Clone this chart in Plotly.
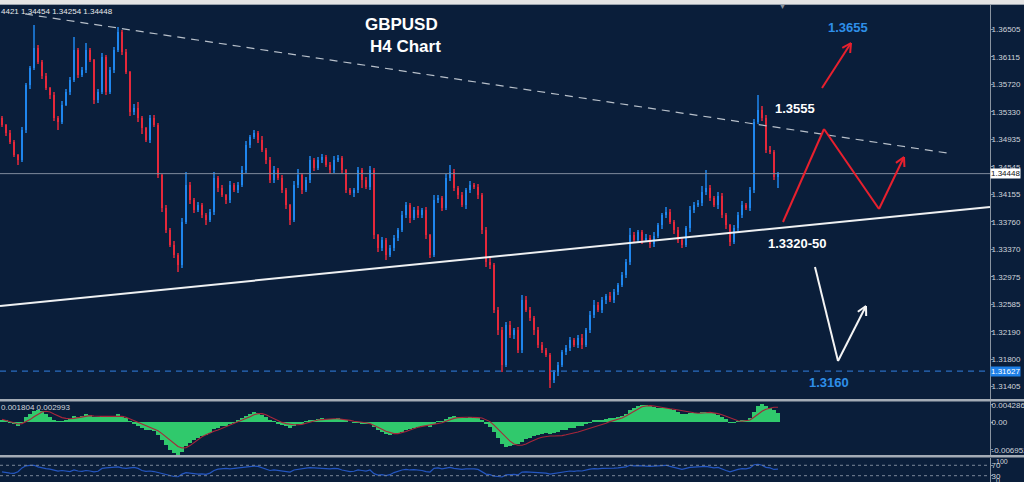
import math
import plotly.graph_objects as go

# ---------------- data ----------------
first_open = 1.3524
close = [
    1.3514, 1.3503, 1.3490, 1.3471, 1.3464, 1.3507, 1.3571, 1.3596, 1.3624, 1.3604,
    1.3584, 1.3567, 1.3557, 1.3524, 1.3519, 1.3543, 1.3561, 1.3579, 1.3621, 1.3586,
    1.3593, 1.3621, 1.3607, 1.3550, 1.3561, 1.3611, 1.3561, 1.3593, 1.3621, 1.3647,
    1.3619, 1.3590, 1.3533, 1.3539, 1.3524, 1.3510, 1.3493, 1.3524, 1.3514, 1.3443,
    1.3396, 1.3364, 1.3343, 1.3329, 1.3314, 1.3376, 1.3429, 1.3407, 1.3393, 1.3400,
    1.3386, 1.3379, 1.3390, 1.3439, 1.3424, 1.3414, 1.3407, 1.3429, 1.3421, 1.3429,
    1.3450, 1.3486, 1.3497, 1.3503, 1.3493, 1.3479, 1.3464, 1.3436, 1.3450, 1.3439,
    1.3421, 1.3400, 1.3379, 1.3429, 1.3443, 1.3421, 1.3436, 1.3464, 1.3453, 1.3464,
    1.3469, 1.3457, 1.3450, 1.3464, 1.3467, 1.3450, 1.3421, 1.3417, 1.3421, 1.3450,
    1.3436, 1.3426, 1.3450, 1.3357, 1.3339, 1.3350, 1.3329, 1.3339, 1.3353, 1.3364,
    1.3386, 1.3400, 1.3381, 1.3393, 1.3386, 1.3393, 1.3357, 1.3329, 1.3407, 1.3410,
    1.3396, 1.3439, 1.3447, 1.3424, 1.3414, 1.3400, 1.3421, 1.3429, 1.3426, 1.3414,
    1.3364, 1.3319, 1.3314, 1.3250, 1.3221, 1.3171, 1.3229, 1.3214, 1.3221, 1.3193,
    1.3264, 1.3250, 1.3239, 1.3221, 1.3200, 1.3193, 1.3186, 1.3150, 1.3161, 1.3171,
    1.3190, 1.3196, 1.3207, 1.3200, 1.3210, 1.3200, 1.3221, 1.3243, 1.3257, 1.3250,
    1.3264, 1.3270, 1.3264, 1.3276, 1.3286, 1.3300, 1.3319, 1.3357, 1.3350, 1.3361,
    1.3350, 1.3353, 1.3344, 1.3356, 1.3371, 1.3386, 1.3390, 1.3376, 1.3364, 1.3350,
    1.3343, 1.3367, 1.3393, 1.3400, 1.3403, 1.3419, 1.3424, 1.3410, 1.3400, 1.3413,
    1.3386, 1.3371, 1.3347, 1.3367, 1.3386, 1.3400, 1.3396, 1.3421, 1.3519, 1.3536,
    1.3524, 1.3479, 1.3476, 1.3440, 1.34448,
]
up_wick_pips = [
    3, 2, 4, 3, 2, 5, 4, 3, 33, 4,
    3, 5, 2, 4, 3, 6, 5, 4, 19, 3,
    4, 10, 3, 2, 5, 6, 3, 4, 5, 7,
    3, 4, 2, 6, 8, 3, 2, 5, 4, 3,
    2, 4, 3, 5, 2, 6, 18, 4, 3, 5,
    3, 2, 4, 8, 3, 4, 2, 5, 3, 4,
    6, 5, 3, 4, 3, 5, 2, 4, 6, 3,
    4, 3, 2, 5, 9, 3, 4, 6, 3, 5,
    4, 3, 5, 6, 4, 3, 2, 4, 3, 5,
    3, 4, 6, 3, 2, 5, 3, 4, 4, 3,
    6, 5, 3, 4, 5, 3, 4, 2, 8, 5,
    3, 6, 10, 4, 3, 5, 4, 6, 3, 4,
    3, 5, 8, 3, 4, 5, 4, 6, 3, 5,
    7, 6, 4, 3, 5, 4, 3, 2, 4, 5,
    3, 4, 5, 3, 4, 6, 3, 5, 8, 4,
    5, 3, 6, 4, 3, 5, 4, 10, 5, 4,
    3, 6, 4, 5, 4, 3, 7, 4, 3, 5,
    4, 3, 6, 5, 4, 8, 26, 4, 3, 5,
    4, 3, 2, 5, 4, 6, 3, 5, 4, 21,
    5, 4, 6, 3, 2,
]
down_wick_pips = [
    3, 4, 3, 2, 7, 3, 4, 5, 3, 2,
    4, 3, 5, 4, 12, 3, 2, 4, 3, 5,
    3, 4, 2, 5, 4, 3, 4, 3, 5, 3,
    4, 3, 6, 4, 5, 8, 3, 4, 3, 5,
    6, 4, 3, 5, 10, 4, 3, 5, 4, 3,
    4, 8, 3, 4, 5, 3, 6, 4, 3, 4,
    3, 4, 5, 3, 4, 3, 6, 5, 4, 3,
    4, 5, 8, 3, 4, 5, 3, 4, 5, 3,
    4, 3, 5, 4, 3, 6, 4, 3, 5, 4,
    12, 3, 4, 5, 6, 4, 7, 3, 4, 5,
    3, 4, 6, 3, 4, 5, 6, 5, 3, 4,
    5, 3, 4, 4, 6, 3, 5, 4, 3, 5,
    6, 8, 5, 4, 6, 10, 3, 4, 5, 4,
    5, 3, 4, 6, 4, 5, 3, 11, 4, 5,
    3, 4, 5, 3, 4, 5, 3, 4, 5, 3,
    4, 5, 3, 4, 5, 3, 4, 5, 3, 4,
    5, 3, 6, 4, 3, 5, 4, 3, 5, 4,
    4, 3, 5, 4, 3, 4, 5, 4, 3, 5,
    4, 5, 6, 3, 4, 5, 3, 4, 4, 3,
    4, 5, 3, 4, 16,
]
macd_hist = [
    0.0004, 0.0003, -0.0002, -0.0006, -0.0009, -0.0002, 0.0012, 0.0020, 0.0028, 0.0031,
    0.0028, 0.0020, 0.0012, 0.0005, 0.0001, 0.0001, 0.0004, 0.0008, 0.0014, 0.0013,
    0.0015, 0.0020, 0.0018, 0.0012, 0.0013, 0.0016, 0.0013, 0.0014, 0.0016, 0.0019,
    0.0015, 0.0009, 0.0001, -0.0004, -0.0010, -0.0014, -0.0019, -0.0020, -0.0023, -0.0032,
    -0.0045, -0.0058, -0.0069, -0.0078, -0.0086, -0.0076, -0.0060, -0.0052, -0.0046, -0.0040,
    -0.0036, -0.0033, -0.0028, -0.0018, -0.0014, -0.0011, -0.0009, -0.0004, -0.0001, 0.0003,
    0.0009, 0.0016, 0.0021, 0.0024, 0.0022, 0.0018, 0.0012, 0.0004, 0.0001, -0.0003,
    -0.0007, -0.0011, -0.0014, -0.0009, -0.0005, -0.0003, 0.0001, 0.0005, 0.0006, 0.0008,
    0.0009, 0.0008, 0.0007, 0.0008, 0.0009, 0.0007, 0.0003, 0.0000, -0.0002, -0.0001,
    -0.0003, -0.0005, -0.0004, -0.0012, -0.0020, -0.0025, -0.0030, -0.0032, -0.0031, -0.0028,
    -0.0024, -0.0020, -0.0018, -0.0015, -0.0012, -0.0010, -0.0010, -0.0013, -0.0006, 0.0001,
    0.0002, 0.0007, 0.0013, 0.0015, 0.0012, 0.0010, 0.0011, 0.0012, 0.0011, 0.0010,
    0.0005, -0.0004, -0.0013, -0.0026, -0.0040, -0.0056, -0.0063, -0.0061, -0.0058, -0.0056,
    -0.0049, -0.0043, -0.0039, -0.0035, -0.0033, -0.0030, -0.0028, -0.0030, -0.0027, -0.0024,
    -0.0021, -0.0019, -0.0016, -0.0014, -0.0011, -0.0009, -0.0006, -0.0002, 0.0003, 0.0005,
    0.0006, 0.0008, 0.0009, 0.0010, 0.0012, 0.0015, 0.0020, 0.0030, 0.0036, 0.0040,
    0.0042, 0.0042, 0.0039, 0.0037, 0.0036, 0.0035, 0.0035, 0.0033, 0.0030, 0.0025,
    0.0021, 0.0020, 0.0022, 0.0023, 0.0022, 0.0024, 0.0026, 0.0025, 0.0022, 0.0018,
    0.0013, 0.0007, -0.0002, -0.0001, 0.0002, 0.0003, 0.0004, 0.0009, 0.0026, 0.0039,
    0.0044, 0.0041, 0.0035, 0.0029, 0.0023,
]
macd_signal = [
    0.0007, 0.0004, 0.0001, -0.0002, -0.0005, -0.0004, 0.0000, 0.0006, 0.0013, 0.0020,
    0.0025, 0.0027, 0.0025, 0.0020, 0.0015, 0.0011, 0.0009, 0.0008, 0.0009, 0.0011,
    0.0013, 0.0015, 0.0016, 0.0015, 0.0014, 0.0014, 0.0014, 0.0014, 0.0014, 0.0014,
    0.0014, 0.0012, 0.0008, 0.0004, 0.0000, -0.0004, -0.0008, -0.0012, -0.0016, -0.0022,
    -0.0029, -0.0037, -0.0046, -0.0054, -0.0061, -0.0065, -0.0064, -0.0059, -0.0051, -0.0043,
    -0.0037, -0.0032, -0.0027, -0.0023, -0.0020, -0.0016, -0.0012, -0.0008, -0.0004, -0.0001,
    0.0003, 0.0008, 0.0013, 0.0018, 0.0021, 0.0021, 0.0018, 0.0013, 0.0008, 0.0003,
    -0.0001, -0.0004, -0.0006, -0.0007, -0.0007, -0.0006, -0.0003, 0.0000, 0.0003, 0.0005,
    0.0006, 0.0007, 0.00075, 0.0008, 0.0008, 0.0007, 0.0006, 0.0004, 0.0002, 0.0001,
    0.0000, -0.0002, -0.0004, -0.0008, -0.0013, -0.0018, -0.0023, -0.0027, -0.0029, -0.0029,
    -0.0027, -0.0024, -0.0020, -0.0016, -0.0013, -0.0011, -0.0009, -0.0008, -0.0006, -0.0004,
    -0.0002, 0.0002, 0.0006, 0.0009, 0.0011, 0.0012, 0.0012, 0.0012, 0.0012, 0.0011,
    0.0010, 0.0006, 0.0001, -0.0008, -0.0018, -0.0029, -0.0040, -0.0048, -0.0055, -0.0058,
    -0.0058, -0.0055, -0.0050, -0.0045, -0.0041, -0.0038, -0.0036, -0.0035, -0.0035, -0.0035,
    -0.0034, -0.0032, -0.0030, -0.0028, -0.0025, -0.0022, -0.0019, -0.0016, -0.0013, -0.0010,
    -0.0006, -0.0003, 0.0001, 0.0004, 0.0007, 0.0010, 0.0015, 0.0021, 0.0028, 0.0034,
    0.0038, 0.0040, 0.0041, 0.0040, 0.0038, 0.0036, 0.0035, 0.0033, 0.0032, 0.0030,
    0.0028, 0.0026, 0.0024, 0.0023, 0.0022, 0.0022, 0.0023, 0.0024, 0.0023, 0.0021,
    0.0018, 0.0014, 0.0009, 0.0005, 0.0003, 0.0002, 0.0003, 0.0005, 0.0012, 0.0020,
    0.0027, 0.0032, 0.0035, 0.0037, 0.0037,
]
rsi = [
    45, 42, 40, 39, 45, 60, 68, 70, 70, 64,
    60, 57, 55, 52, 48, 50, 47, 46, 52, 48,
    47, 50, 48, 45, 47, 58, 60, 62, 63, 64,
    60, 58, 60, 62, 58, 50, 47, 48, 46, 42,
    38, 33, 30, 27, 26, 36, 42, 40, 38, 36,
    37, 35, 40, 50, 55, 57, 58, 56, 58, 60,
    62, 64, 66, 67, 66, 60, 55, 50, 52, 50,
    47, 45, 44, 52, 55, 57, 59, 61, 60, 59,
    60, 57, 56, 58, 57, 52, 48, 46, 47, 52,
    50, 48, 52, 38, 32, 34, 30, 34, 42, 48,
    52, 54, 52, 53, 52, 50, 46, 44, 58, 60,
    56, 60, 62, 58, 56, 54, 56, 57, 56, 54,
    45, 36, 34, 28, 27, 25, 33, 34, 35, 33,
    44, 45, 44, 43, 42, 41, 40, 36, 38, 40,
    44, 45, 48, 47, 49, 48, 52, 55, 57, 56,
    58, 58, 57, 59, 60, 62, 64, 70, 68, 69,
    67, 67, 66, 67, 69, 70, 70, 66, 62, 57,
    54, 58, 62, 63, 63, 65, 66, 62, 60, 62,
    55, 50, 45, 50, 54, 57, 56, 60, 72, 74,
    70, 62, 60, 54, 55,
]
price_ticks = [1.36505, 1.36115, 1.35720, 1.35330, 1.34935, 1.34545, 1.34155,
               1.33760, 1.33370, 1.32975, 1.32585, 1.32190, 1.31800, 1.31405]
macd_ticks = [0.004286, 0.0, -0.006952]
macd_tick_text = ["0.004286", "0.00", "-0.006952"]
rsi_levels = [70, 30]
rsi_tick_text = ["70", "30"]
last_price = 1.34448
support_price = 1.31627
header_text = "4421 1.34454 1.34254 1.34448"
macd_header_text = "0.001804 0.002993"

n = len(close)
assert all(len(a) == n for a in (up_wick_pips, down_wick_pips, macd_hist, macd_signal, rsi))
idx = list(range(n))
opens = [first_open] + close[:-1]
highs = [max(o, c) + u * 0.0001 for o, c, u in zip(opens, close, up_wick_pips)]
lows = [min(o, c) - d * 0.0001 for o, c, d in zip(opens, close, down_wick_pips)]

# ---------------- styling / layout helpers ----------------
W, H = 1024, 482
PLOT_R = 990
BG = "#0a1e3a"
UP = "#1f86ee"
DOWN = "#e6283a"
TXT = "#d0d4da"
FONT = "Liberation Sans"


def fx(xp):
    return xp / W


def fy(yp):
    return (H - yp) / H


XR = fx(PLOT_R)
cols = [UP if c >= o else DOWN for o, c in zip(opens, close)]

fig = go.Figure()

# candles: wicks then bodies
fig.add_trace(go.Bar(x=idx, y=[h - l for h, l in zip(highs, lows)], base=lows,
                     width=0.28, marker=dict(color=cols, line=dict(width=0)),
                     opacity=0.75, xaxis="x", yaxis="y", hoverinfo="skip"))
fig.add_trace(go.Bar(x=idx, y=[max(abs(c - o), 0.00003) for o, c in zip(opens, close)],
                     base=[min(o, c) for o, c in zip(opens, close)],
                     width=0.74, marker=dict(color=cols, line=dict(width=0)),
                     xaxis="x", yaxis="y", hoverinfo="skip"))

# MACD
fig.add_trace(go.Bar(x=idx, y=macd_hist, width=0.78,
                     marker=dict(color="#30c96c", line=dict(width=0)),
                     xaxis="x2", yaxis="y2", hoverinfo="skip"))
fig.add_trace(go.Scatter(x=idx, y=macd_signal, mode="lines",
                         line=dict(color="#a8263a", width=1.1),
                         xaxis="x2", yaxis="y2", hoverinfo="skip"))
# RSI
fig.add_trace(go.Scatter(x=idx, y=rsi, mode="lines",
                         line=dict(color="#2456c0", width=1.2),
                         xaxis="x3", yaxis="y3", hoverinfo="skip"))

XRANGE = [-0.5, 247]
common_x = dict(range=XRANGE, domain=[0, XR], showgrid=False, zeroline=False,
                showticklabels=False, ticks="", showline=False, fixedrange=True)
tick_font = dict(family=FONT, size=8, color=TXT)
common_y = dict(side="right", showgrid=False, zeroline=False, showline=True,
                linecolor="#8a94a0", linewidth=1, ticks="outside", ticklen=2,
                tickcolor="#8a94a0", tickfont=tick_font, automargin=False,
                ticklabelstandoff=-3)

fig.update_layout(
    width=W, height=H, margin=dict(l=0, r=0, t=0, b=0),
    paper_bgcolor=BG, plot_bgcolor=BG, showlegend=False, barmode="overlay",
    bargap=0,
    xaxis=dict(**common_x, anchor="y"),
    xaxis2=dict(**common_x, anchor="y2", matches="x"),
    xaxis3=dict(**common_x, anchor="y3", matches="x"),
    yaxis=dict(**common_y, anchor="x", domain=[fy(399), fy(5)],
               range=[1.3650 - 369 / 7000, 1.3650 + 25 / 7000],
               tickvals=price_ticks, tickformat=".5f"),
    yaxis2=dict(**common_y, anchor="x2", domain=[fy(455), fy(401)],
                range=[-0.00825, 0.00525], tickvals=macd_ticks, ticktext=macd_tick_text),
    yaxis3=dict(**common_y, anchor="x3", domain=[0, fy(458)],
                range=[5.8, 98], tickvals=rsi_levels, ticktext=rsi_tick_text),
)

shapes = []
# top strip and panel separators
shapes.append(dict(type="rect", xref="paper", yref="paper", x0=0, x1=1, y0=fy(4), y1=1,
                   fillcolor="#e4e4e4", line=dict(width=0), layer="above"))
shapes.append(dict(type="line", xref="paper", yref="paper", x0=0, x1=1, y0=fy(4.5), y1=fy(4.5),
                   line=dict(color="#9aa2ac", width=1)))
for y0, y1 in [(399, 401.5), (455, 457.5)]:
    shapes.append(dict(type="rect", xref="paper", yref="paper", x0=0, x1=1,
                       y0=fy(y1), y1=fy(y0), fillcolor="#a4acb6", line=dict(width=0)))

# current price line and 1.3160 dashed line
shapes.append(dict(type="line", xref="paper", yref="y", x0=0, x1=XR, y0=last_price, y1=last_price,
                   line=dict(color="#7f8b9c", width=1)))
shapes.append(dict(type="line", xref="paper", yref="y", x0=0, x1=XR, y0=support_price,
                   y1=support_price, line=dict(color="#2a6cc0", width=1.4, dash="6px,5px")))

# RSI levels
for lv in rsi_levels:
    shapes.append(dict(type="line", xref="paper", yref="y3", x0=0, x1=XR, y0=lv, y1=lv,
                       line=dict(color="#7a8798", width=1, dash="dot")))


def seg(p0, p1, color, width, dash=None):
    ln = dict(color=color, width=width)
    if dash:
        ln["dash"] = dash
    return dict(type="line", xref="paper", yref="paper", x0=fx(p0[0]), y0=fy(p0[1]),
                x1=fx(p1[0]), y1=fy(p1[1]), line=ln)


# trend lines
shapes.append(seg((0, 306), (PLOT_R, 207), "#eef0f2", 2))
shapes.append(seg((25, 14), (947, 153), "#b8c0ca", 1.2, "8px,6px"))


def polyline_arrow(pts, color, width):
    out = []
    for a, b in zip(pts[:-1], pts[1:]):
        out.append(seg(a, b, color, width))
    (x0, y0), (x1, y1) = pts[-2], pts[-1]
    ang = math.atan2(y1 - y0, x1 - x0)
    L = 10
    for s in (1, -1):
        a2 = ang + math.pi + s * math.radians(28)
        out.append(seg((x1, y1), (x1 + L * math.cos(a2), y1 + L * math.sin(a2)), color, width))
    return out


RED = "#e8202e"
shapes += polyline_arrow([(783, 222), (824, 129), (879, 209), (904, 157)], RED, 2)
shapes += polyline_arrow([(822, 88), (851, 43)], RED, 2)
shapes += polyline_arrow([(815, 267), (838, 361), (866, 306)], "#f4f4f4", 2)

fig.update_layout(shapes=shapes)

ann = []


def text(xp, yp, s, size, color, bold=True, xanchor="center", bg=None):
    d = dict(x=fx(xp), y=fy(yp), xref="paper", yref="paper", showarrow=False,
             text=f"<b>{s}</b>" if bold else s, xanchor=xanchor, yanchor="middle",
             font=dict(family=FONT, size=size, color=color))
    if bg:
        d.update(bgcolor=bg, borderpad=0)
    ann.append(d)


text(401, 24, "GBPUSD", 17, "white")
text(405, 46, "H4 Chart", 17, "white")
text(848, 27, "1.3655", 13, "#2e8fe8")
text(795, 109, "1.3555", 13, "white")
text(797, 243, "1.3320-50", 13, "white")
text(829, 382, "1.3160", 13, "#2e8fe8")
text(-1, 11, header_text, 8, "#e6e8ea", bold=False, xanchor="left")
text(-1, 407, macd_header_text, 8, TXT, bold=False, xanchor="left")

# price boxes on the axis
ann.append(dict(x=XR, y=last_price, xref="paper", yref="y", showarrow=False,
                text=f"{last_price:.5f}", xanchor="left", yanchor="middle",
                bgcolor="white", borderpad=0,
                font=dict(family=FONT, size=8, color="#101010")))
ann.append(dict(x=XR, y=support_price, xref="paper", yref="y", showarrow=False,
                text=f"{support_price:.5f}", xanchor="left", yanchor="middle",
                bgcolor="#1e80e8", borderpad=0,
                font=dict(family=FONT, size=8, color="white")))
# RSI scale extremes
text(994, 461, "100", 7, TXT, bold=False, xanchor="left")
text(994, 480, "0", 7, TXT, bold=False, xanchor="left")
# shift marker at top
text(782, 7, "▼", 7, "#8a929c", bold=False)

fig.update_layout(annotations=ann)
fig.write_html("out.html")
